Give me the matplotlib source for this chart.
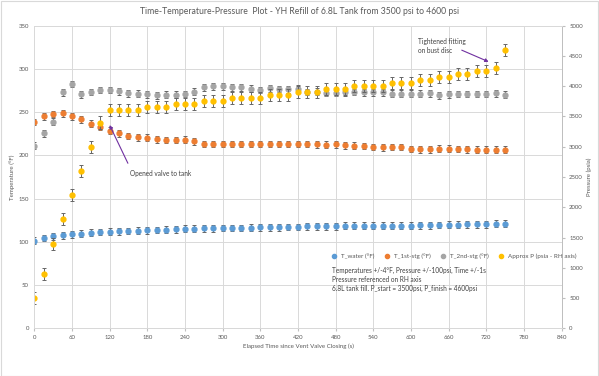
import matplotlib.pyplot as plt
from matplotlib.lines import Line2D
from matplotlib.patches import Rectangle

plt.rcParams['font.family'] = ['Lato', 'DejaVu Sans']

# Data (time in s, temperatures in F, pressure in psi)
time_s = [0, 15, 30, 45, 60, 75, 90, 105, 120, 135, 150, 165, 180, 195, 210, 225,
          240, 255, 270, 285, 300, 315, 330, 345, 360, 375, 390, 405, 420, 435,
          450, 465, 480, 495, 510, 525, 540, 555, 570, 585, 600, 615, 630, 645,
          660, 675, 690, 705, 720, 735, 750]

t_water = [101.3, 104.4, 106.4, 107.5, 109.0, 109.4, 110.6, 111.4, 111.8, 112.2,
           112.5, 112.9, 113.3, 113.7, 114.1, 114.5, 114.9, 115.2, 115.6, 115.6,
           116.0, 116.0, 116.0, 116.4, 116.8, 116.8, 116.8, 117.2, 117.2, 118.0,
           118.0, 118.0, 118.0, 118.4, 118.4, 118.4, 118.4, 118.4, 118.8, 118.8,
           118.8, 119.1, 119.1, 119.5, 119.9, 119.9, 120.3, 120.3, 120.3, 120.7, 120.7]

t_1st = [238.6, 245.2, 247.9, 248.7, 245.5, 241.7, 236.6, 232.8, 228.6, 225.5,
         222.4, 220.9, 220.5, 218.6, 217.8, 217.8, 218.2, 216.3, 213.2, 213.2,
         213.2, 213.2, 213.2, 213.2, 213.2, 213.2, 213.2, 213.2, 213.2, 213.2,
         212.8, 212.4, 212.8, 211.7, 211.3, 210.9, 209.7, 209.3, 209.7, 209.7,
         207.4, 207.0, 207.0, 207.8, 207.8, 207.4, 207.0, 206.6, 206.6, 206.6, 206.6]

t_2nd = [211.2, 225.5, 239.0, 273.0, 282.6, 270.6, 273.3, 275.6, 275.6, 274.0,
         272.0, 271.5, 270.6, 269.8, 270.0, 270.0, 271.0, 273.7, 278.7, 279.9,
         280.0, 278.7, 278.7, 277.0, 275.6, 277.5, 276.8, 276.4, 277.0, 273.3,
         273.7, 272.6, 272.6, 273.0, 273.3, 273.0, 273.0, 273.0, 271.4, 271.4,
         271.4, 271.4, 271.8, 269.8, 270.6, 271.0, 271.0, 271.0, 271.0, 271.8, 270.2]

p_psi = [500, 900, 1400, 1800, 2200, 2600, 3000, 3400, 3600, 3600, 3600, 3600,
         3650, 3650, 3650, 3700, 3700, 3700, 3750, 3750, 3750, 3800, 3800, 3800,
         3800, 3850, 3850, 3850, 3900, 3900, 3900, 3950, 3950, 3950, 4000, 4000,
         4000, 4000, 4050, 4050, 4050, 4100, 4100, 4150, 4150, 4200, 4200, 4250,
         4250, 4300, 4600]

labels = ['T_water (°F)', 'T_1st-stg (°F)', 'T_2nd-stg (°F)', 'Approx P (psia - RH axis)']
colors = ['#5b9bd5', '#ed7d31', '#a5a5a5', '#ffc000']

fig = plt.figure(figsize=(5.99, 3.76), dpi=100)
ax = fig.add_axes([0.0573, 0.1269, 0.8801, 0.8047])
ax2 = ax.twinx()

eb = dict(fmt='o', ms=3.5, ecolor='#666666', elinewidth=0.7, capsize=1.4, capthick=0.7)
ax.errorbar(time_s, t_water, yerr=4, color=colors[0], **eb)
ax.errorbar(time_s, t_1st, yerr=4, color=colors[1], **eb)
ax.errorbar(time_s, t_2nd, yerr=4, color=colors[2], **eb)
ax2.errorbar(time_s, p_psi, yerr=100, color=colors[3], **eb)

ax.set_xlim(0, 840)
ax.set_ylim(0, 350)
ax2.set_ylim(0, 5000)
ax.set_xticks(range(0, 841, 60))
ax.set_yticks(range(0, 351, 50))
ax2.set_yticks(range(0, 5001, 500))
ax.grid(color='#d9d9d9', lw=0.7)
ax.set_axisbelow(True)

for a in (ax, ax2):
    for s in a.spines.values():
        s.set_color('#d9d9d9')
        s.set_linewidth(0.7)
ax2.spines['right'].set_color('#bfbfbf')
ax.spines['bottom'].set_color('#bfbfbf')
ax.tick_params(axis='y', labelsize=4.3, colors='#595959', length=0, pad=4)
ax.tick_params(axis='x', labelsize=4.3, colors='#595959', length=2, color='#bfbfbf', pad=3)
ax2.tick_params(axis='y', labelsize=4.3, colors='#595959', length=2.5, color='#bfbfbf', pad=3)

fig.text(0.5, 1 - 12 / 376, 'Time-Temperature-Pressure  Plot - YH Refill of 6.8L Tank from 3500 psi to 4600 psi',
         ha='center', va='center', fontsize=6.2, color='#595959')
fig.text(12 / 599, 1 - 177 / 376, 'Temperature (°F)', rotation=90, ha='center', va='center',
         fontsize=4.4, color='#595959')
fig.text(589 / 599, 1 - 177 / 376, 'Pressure (psia)', rotation=90, ha='center', va='center',
         fontsize=4.4, color='#595959')
fig.text(298 / 599, 1 - 346 / 376, 'Elapsed Time since Vent Valve Closing (s)', ha='center', va='center',
         fontsize=4.4, color='#595959')

handles = [Line2D([], [], ls='', marker='o', ms=3, color=c) for c in colors]
ax2.legend(handles, labels, loc='center left', bbox_to_anchor=(0.552, 0.237), ncol=4, frameon=False,
           fontsize=4.5, handletextpad=0.1, columnspacing=1.0, labelcolor='#595959', borderaxespad=0)

ax2.text(0.565, 0.162, 'Temperatures +/-4°F, Pressure +/-100psi, Time +/-1s\n'
         'Pressure referenced on RH axis\n6.8L tank fill. P_start = 3500psi, P_finish = 4600psi',
         transform=ax2.transAxes, ha='left', va='center', fontsize=4.7, color='#404040', linespacing=1.3)

# annotations with purple arrows
ax.annotate('', xy=(118, 238), xytext=(151, 188),
            arrowprops=dict(arrowstyle='-|>', color='#7030a0', lw=0.8, mutation_scale=5))
ax.text(152, 179.6, 'Opened valve to tank', fontsize=4.7, color='#404040', va='center')
ax.annotate('', xy=(728, 307), xytext=(677, 323),
            arrowprops=dict(arrowstyle='-|>', color='#7030a0', lw=0.8, mutation_scale=5))
ax.text(612, 327, 'Tightened fitting\non bust disc', fontsize=4.7, color='#404040', va='center',
        linespacing=1.3)

fig.patches.append(Rectangle((0.5 / 599, 0.5 / 376), 597 / 599, 374.5 / 376, transform=fig.transFigure,
                             fill=False, edgecolor='#d9d9d9', lw=0.8))

fig.savefig('out.png', dpi=100)
